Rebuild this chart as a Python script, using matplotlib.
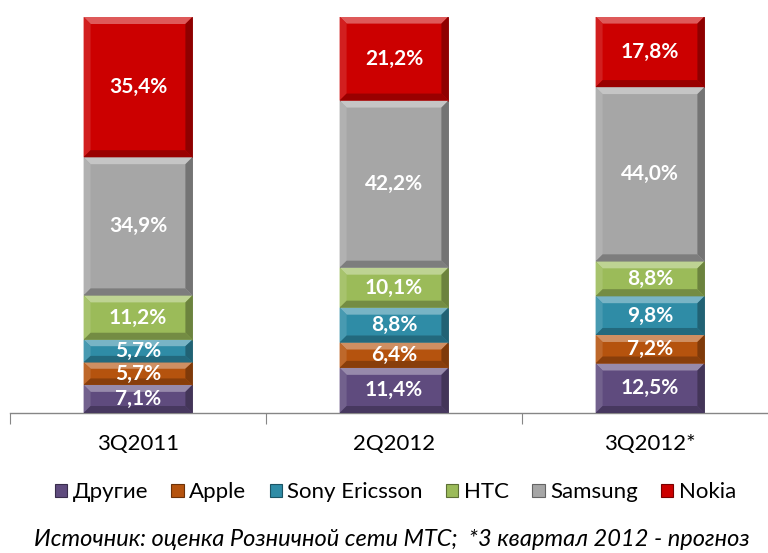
import numpy as np
import matplotlib
matplotlib.use("Agg")
import matplotlib.pyplot as plt
from matplotlib.patches import Polygon, Patch
from matplotlib import colors as mcolors

plt.rcParams['font.family'] = ['Lato', 'DejaVu Sans']

categories = ['3Q2011', '2Q2012', '3Q2012*']
brands = ['Другие', 'Apple', 'Sony Ericsson', 'HTC', 'Samsung', 'Nokia']
shares = {
    'Другие':        [7.1, 11.4, 12.5],
    'Apple':         [5.7, 6.4, 7.2],
    'Sony Ericsson': [5.7, 8.8, 9.8],
    'HTC':           [11.2, 10.1, 8.8],
    'Samsung':       [34.9, 42.2, 44.0],
    'Nokia':         [35.4, 21.2, 17.8],
}
brand_colors = ['#5f4b7e', '#b5530e', '#2f8ca6', '#9bbb59', '#a6a6a6', '#cc0000']
source_note = 'Источник: оценка Розничной сети МТС;  *3 квартал 2012 - прогноз'


def shade(c, amount):
    # amount > 0 -> lighter, < 0 -> darker
    rgb = np.array(mcolors.to_rgb(c))
    if amount > 0:
        rgb = rgb + (1 - rgb) * amount
    else:
        rgb = rgb * (1 + amount)
    return tuple(rgb)


fig = plt.figure(figsize=(7.68, 5.53), dpi=100)
ax = fig.add_axes([10 / 768, 140 / 553, 768 / 768, 396 / 553])
x = np.arange(len(categories))
ax.set_xlim(-0.5, 2.5)
ax.set_ylim(0, 100)

bottom = np.zeros(len(categories))
bars = []
for brand, col in zip(brands, brand_colors):
    vals = np.array(shares[brand])
    b = ax.bar(x, vals, width=0.425, bottom=bottom, color=col,
               edgecolor=shade(col, -0.35), linewidth=0.6, zorder=2)
    bars.append((b, col, vals, bottom.copy()))
    for xi, v, bt in zip(x, vals, bottom):
        ax.text(xi, bt + v / 2, f'{v:.1f}%'.replace('.', ','), ha='center',
                va='center', color='white', fontsize=15, fontweight='bold', zorder=4)
    bottom += vals

# bevel effect, thickness in pixels converted to data units
p0 = ax.transData.transform((0, 0))
p1 = ax.transData.transform((1, 1))
bev = 7
dx = bev / (p1[0] - p0[0])
dy = bev / (p1[1] - p0[1])
for b, col, vals, bt in bars:
    for rect in b.patches:
        x0 = rect.get_x()
        x1 = x0 + rect.get_width()
        y0 = rect.get_y()
        y1 = y0 + rect.get_height()
        ddy = min(dy, (y1 - y0) / 3.5)
        ix0, ix1, iy0, iy1 = x0 + dx, x1 - dx, y0 + ddy, y1 - ddy
        faces = [
            ([(x0, y1), (x1, y1), (ix1, iy1), (ix0, iy1)], 0.35),
            ([(x0, y0), (x0, y1), (ix0, iy1), (ix0, iy0)], 0.12),
            ([(x1, y0), (x1, y1), (ix1, iy1), (ix1, iy0)], -0.3),
            ([(x0, y0), (x1, y0), (ix1, iy0), (ix0, iy0)], -0.25),
        ]
        for pts, amt in faces:
            ax.add_patch(Polygon(pts, closed=True, facecolor=shade(col, amt),
                                 edgecolor='none', zorder=3))

for s in ['top', 'right', 'left']:
    ax.spines[s].set_visible(False)
ax.spines['bottom'].set_color('#868686')
ax.spines['bottom'].set_linewidth(1)
ax.set_yticks([])
ax.set_xticks([-0.5, 0.5, 1.5, 2.5])
ax.set_xticklabels([])
ax.set_xticks(x, minor=True)
ax.set_xticklabels(categories, minor=True, fontsize=16)
ax.tick_params(axis='x', which='major', length=8, color='#868686')
ax.tick_params(axis='x', which='minor', length=0, pad=15)

handles = [Patch(facecolor=c, edgecolor=shade(c, -0.4), linewidth=0.8) for c in brand_colors]
fig.legend(handles, brands, loc='center', bbox_to_anchor=(0.515, 0.11), ncol=6,
           frameon=False, fontsize=16, handlelength=0.55, handleheight=0.55,
           handletextpad=0.25, columnspacing=1.05)

fig.text(0.51, 0.024, source_note, ha='center', va='center', fontsize=17, style='italic')

fig.savefig('out.png', dpi=100)
